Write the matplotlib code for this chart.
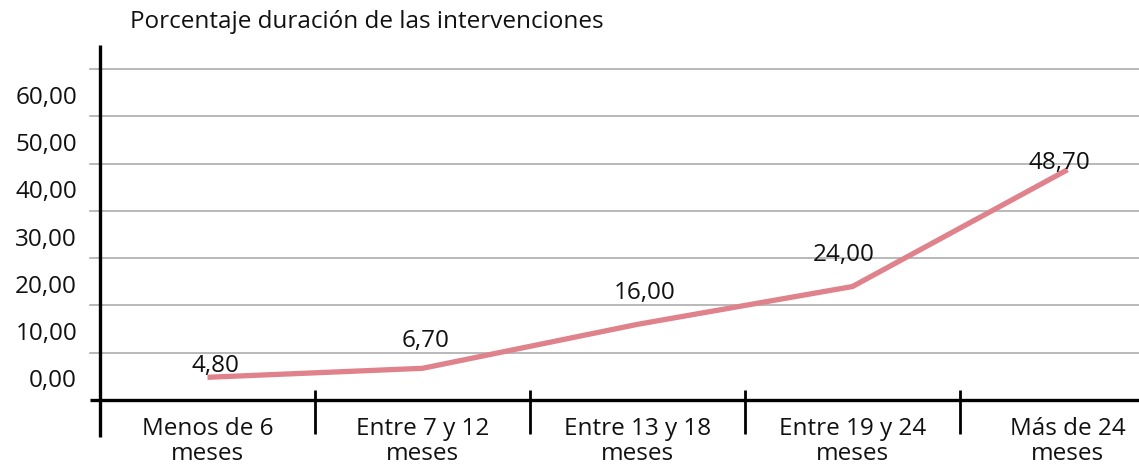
import matplotlib
matplotlib.use("Agg")
import matplotlib.pyplot as plt
import matplotlib.transforms as mtransforms

categories = ["Menos de 6\nmeses", "Entre 7 y 12\nmeses", "Entre 13 y 18\nmeses",
              "Entre 19 y 24\nmeses", "Más de 24\nmeses"]
values = [4.80, 6.70, 16.00, 24.00, 48.70]
value_labels = ["4,80", "6,70", "16,00", "24,00", "48,70"]
y_ticks = [0, 10, 20, 30, 40, 50, 60, 70]
y_tick_labels = ["0,00", "10,00", "20,00", "30,00", "40,00", "50,00", "60,00", ""]
title = "Porcentaje duración de las intervenciones"

# label offsets in pixels (style only)
label_offsets = [(7.5, 11), (3.5, 27), (7.5, 31), (-8.5, 31.5), (-8.5, 6.7)]

plt.rcParams['font.family'] = ['Open Sans', 'DejaVu Sans']
FS = 17.5
W, H = 1139, 465
fig = plt.figure(figsize=(W / 100, H / 100), dpi=100)
ax_left, ax_right = 100, 1175
ax_bottom_px, ax_top_px = 400, 69
ax = fig.add_axes([ax_left / W, 1 - ax_bottom_px / H,
                   (ax_right - ax_left) / W, (ax_bottom_px - ax_top_px) / H])
ax.set_xlim(-0.5, len(categories) - 0.5)
ax.set_ylim(0, 70)
for s in ax.spines.values():
    s.set_visible(False)

axh = ax_bottom_px - ax_top_px
axw = ax_right - ax_left
ytr = ax.get_yaxis_transform()
xtr = ax.get_xaxis_transform()

# gridlines (extend 10px left of spine)
for v in y_ticks[1:]:
    ax.plot([-10 / axw, 1], [v, v], transform=ytr, color="#adadad", lw=1.2,
            clip_on=False, zorder=1)
# x axis line
ax.plot([-10 / axw, 1], [0, 0], transform=ytr, color="black", lw=2.4,
        clip_on=False, zorder=3, solid_capstyle='butt')
# y axis line
ax.plot([0, 0], [(ax_bottom_px - 437) / axh, (ax_bottom_px - 45) / axh],
        transform=ax.transAxes, color="black", lw=2.4, clip_on=False, zorder=3,
        solid_capstyle='butt')
# category separators
for b in range(1, len(categories)):
    ax.plot([b - 0.5, b - 0.5], [(ax_bottom_px - 390) / axh, (ax_bottom_px - 434) / axh],
            transform=xtr, color="black", lw=2.0, clip_on=False, zorder=3,
            solid_capstyle='butt')

# y ticks
ax.set_yticks(y_ticks)
ax.set_yticklabels(y_tick_labels, fontsize=FS, color="#111111")
ax.tick_params(axis='y', length=0, pad=16.5)
half = (axh / 7) / 2 - 2
offset = mtransforms.ScaledTranslation(0, half / 100, fig.dpi_scale_trans)
for lab in ax.get_yticklabels():
    lab.set_transform(lab.get_transform() + offset)

# x ticks
ax.set_xticks(range(len(categories)))
ax.set_xticklabels(categories, fontsize=FS, color="#111111", linespacing=1.05)
ax.tick_params(axis='x', length=0, pad=12)

# line
x = list(range(len(categories)))
ax.plot(x, values, color="#e0828c", lw=3.8, zorder=4, solid_capstyle='butt')

for xi, v, lab, off in zip(x, values, value_labels, label_offsets):
    ax.annotate(lab, (xi, v), xytext=off, textcoords='offset pixels',
                ha='center', va='center', fontsize=FS, color="#111111", zorder=5)

fig.text(130 / W, 1 - 22 / H, title, ha='left', va='center', fontsize=FS,
         color="#111111")

fig.savefig("out.png", dpi=100)
